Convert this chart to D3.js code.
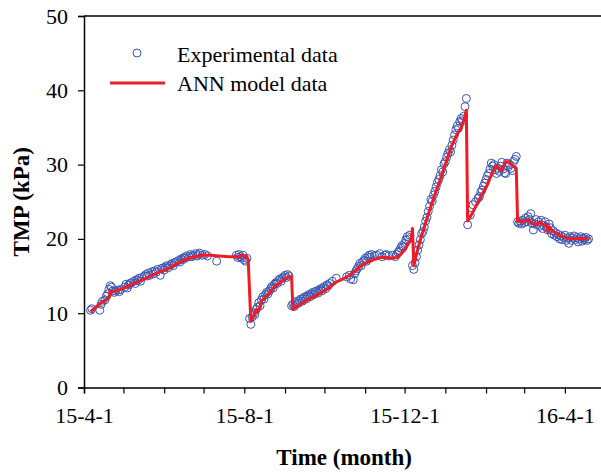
<!DOCTYPE html>
<html lang="en">
<head>
<meta charset="UTF-8">
<title>TMP vs time</title>
<style>
  body { margin: 0; background: #fff; }
  svg { display: block; font-family: "Liberation Serif", "Times New Roman", serif; }
</style>
</head>
<body>
<svg id="chart" width="601" height="474"></svg>
<script src="https://d3js.org/d3.v7.min.js"></script>
<script>
// days counted from 2015-04-01
var startDate = "2015-04-01";
var endDate = "2016-05-01";

var expDays = [5, 6, 12, 13, 14, 16, 17, 18, 19, 20, 21, 22, 23, 24, 26, 27, 28, 31, 32, 33, 34, 35, 36, 38, 39, 40,
  41, 42, 43, 44, 46, 47, 48, 49, 50, 52, 53, 54, 55, 56, 58, 59, 60, 61, 62, 63, 64, 66, 67, 68, 69, 70, 72, 73, 74,
  75, 76, 77, 78, 80, 81, 82, 83, 85, 86, 87, 88, 90, 92, 94, 101, 116, 117, 118, 119, 120, 121, 122, 123, 124,
  126, 127, 128, 129, 130, 131, 132, 133, 134, 135, 136, 137, 138, 139, 140, 141, 142, 143, 144, 145, 146, 147, 148,
  149, 150, 151, 152, 153, 154, 155, 156,
  158, 159, 160, 161, 162, 163, 164, 165, 166, 167, 168, 169, 170, 171, 172, 173, 174, 175, 176, 177, 178, 179, 180,
  181, 182, 183, 184, 185, 186, 187, 189, 192, 200, 202, 203, 205, 206, 207, 208, 209, 210, 211, 212, 213, 214, 215,
  216, 217, 218, 219, 221, 223, 225, 227, 229, 230, 232, 235, 237, 238, 239, 240, 241, 242, 243, 244, 245, 246, 247, 248,
  250, 251, 252, 253, 254, 255, 256, 257, 258, 259, 260, 261, 262, 263, 264, 265, 266, 267, 268, 269, 270, 271, 272,
  273, 274, 275, 276, 277, 278, 279, 280, 281, 282, 283, 284, 285, 286, 287, 288, 289, 290, 291,
  292, 294, 296, 298, 300, 301, 302, 303, 304, 305, 306, 307, 308, 309, 310, 311, 312, 313, 314, 315, 316, 317, 318,
  319, 320, 321, 322, 323, 324, 325, 326, 327, 328, 329,
  330, 331, 332, 333, 334, 335, 336, 337, 338, 339, 340, 341, 342, 343, 344, 345, 346, 347, 348, 349, 350, 351, 352,
  353, 354, 355, 356, 357, 358, 359, 360, 361, 362, 363, 364, 365, 366, 367, 368, 369, 370, 371, 372, 373, 374, 375,
  376, 377, 378, 379, 380, 381, 382, 383, 384];

var expTMP = [10.4, 10.6, 10.4, 11.2, 11.6, 11.8, 12.3, 12.6, 13.2, 13.7, 13.5, 13.0, 12.8, 13.0, 13.1, 12.9, 13.2,
  13.5, 13.9, 13.4, 13.8, 14.0, 14.1, 14.3, 14.0, 14.5,
  14.4, 14.7, 14.3, 14.8, 15.0, 15.2, 15.0, 15.4, 15.1, 15.6, 15.3, 15.7, 15.5, 15.9, 15.1, 16.0, 16.1, 15.8, 16.2,
  16.4, 16.1, 16.5, 16.7, 16.4, 16.8, 16.9, 17.1, 16.9, 17.3,
  17.2, 17.5, 17.4, 17.7, 17.6, 17.9, 17.6, 17.8, 18.0, 17.7, 17.9, 18.1, 17.8, 17.9, 17.7, 17.0, 17.8, 17.5, 17.9,
  17.6, 17.4, 17.8, 17.2, 17.0, 17.4,
  9.3, 8.5, 9.5, 10.0, 9.8, 10.5, 10.8, 11.4, 11.0, 11.8, 12.2, 11.9, 12.5, 12.8, 12.6, 13.0, 13.3, 13.6, 13.4, 13.9,
  14.1, 14.0, 14.4, 14.6, 14.3, 14.7, 14.9, 15.1, 14.8, 15.2, 15.0,
  11.0, 11.2, 10.9, 11.4, 11.6, 11.3, 11.7, 11.9, 11.6, 12.0, 12.2, 11.9, 12.3, 12.5, 12.2, 12.6, 12.8, 12.5, 12.9,
  13.0, 12.7, 13.1, 13.3,
  13.0, 13.4, 13.6, 13.3, 13.8, 13.7, 14.0, 14.3, 14.7, 14.9, 15.1, 14.6, 14.5, 15.3, 15.7, 16.0, 16.3, 16.7, 16.4,
  16.9, 17.1, 17.4, 17.0,
  17.6, 17.8, 17.5, 17.9, 17.7, 17.8, 18.0, 17.6, 17.8, 17.9, 17.7, 17.8, 17.6, 17.9, 18.2, 18.4, 18.8, 19.1, 18.9,
  19.4, 19.9, 20.3, 20.0, 20.5,
  16.4, 15.9, 16.8, 17.6, 18.5, 19.2, 19.9, 20.7, 21.0, 21.6, 22.4, 22.9, 23.7, 24.4, 25.3, 25.1, 25.9, 26.4, 27.0,
  27.6, 28.0, 28.5, 29.3,
  29.0, 30.1, 30.4, 31.0, 31.5, 32.0, 31.7, 32.6, 33.3, 34.0, 34.7, 35.2, 34.9, 35.8, 36.2, 35.9, 36.5, 37.8, 38.9,
  21.9, 23.2, 24.6, 25.0, 25.5, 25.7, 26.3, 26.6, 27.1, 27.5, 28.0, 28.5, 28.8, 29.4, 30.2, 29.8, 30.0, 29.3, 28.8,
  29.5, 29.1, 29.8, 30.3,
  29.4, 28.9, 28.8, 30.2, 29.7, 30.0, 29.5, 29.2, 30.4, 30.7, 31.1,
  22.3, 22.1, 22.4, 22.0, 22.5, 22.2, 22.8, 22.3, 23.0, 22.6, 23.4, 22.1, 21.2, 22.0, 22.6, 21.9, 22.3, 21.7, 22.5,
  21.4, 21.8, 22.3, 21.6,
  21.2, 22.0, 21.5, 20.7, 21.1, 20.5, 20.8, 20.3, 20.6, 20.0, 20.4, 19.9, 20.2, 20.5, 19.8, 20.1, 19.4, 20.3, 19.8,
  20.1, 20.4, 19.9, 20.2,
  19.6, 20.0, 20.3, 19.7, 20.1, 19.9, 20.2, 19.8, 20.0];

var annDays = [5, 9, 13, 17, 19, 20, 23, 28, 33, 38, 43, 48, 53, 58, 63, 68, 73, 78, 84, 90, 96, 110, 117, 121, 124,
  125, 127, 129, 131, 132, 134, 135, 137, 140, 143, 146, 149, 152, 156, 158,
  159, 163, 167, 171, 175, 179, 183, 187, 192, 197, 202, 206, 210, 214, 218, 222, 226, 230, 234, 238, 241, 244, 247,
  249, 250, 251, 254, 257, 259, 262, 265, 268, 271, 274, 277, 280, 284, 287, 289, 291,
  292, 296, 300, 304, 307, 309, 312, 314, 316, 318, 321, 323, 326, 329,
  330, 334, 338, 341, 344, 347, 350, 352, 353, 354, 357, 362, 366, 370, 375, 380, 384];

var annTMP = [10.2, 10.8, 11.4, 11.8, 12.1, 13.0, 12.9, 13.2, 13.6, 14.0, 14.4, 14.8, 15.2, 15.6, 15.9, 16.4, 16.9,
  17.3, 17.6, 17.8, 17.8, 17.6, 17.6, 17.8, 17.6,
  17.0, 8.9, 9.6, 10.5, 10.1, 10.9, 11.7, 11.9, 12.5, 13.2, 13.7, 14.1, 14.5, 14.9, 14.9,
  10.5, 11.0, 11.4, 11.9, 12.2, 12.6, 13.0, 13.5, 14.2, 14.6, 15.1, 15.6, 16.3, 16.7, 17.0, 17.3, 17.5, 17.5, 17.4,
  17.5, 17.9, 18.5, 19.4,
  19.9, 21.4, 16.4, 18.6, 20.5, 21.6, 23.3, 24.9, 26.4, 27.9, 29.5, 31.1, 32.6, 34.1, 34.9, 35.9, 37.3,
  22.4, 23.6, 25.0, 26.3, 27.3, 28.2, 29.3, 29.9, 29.4, 29.2, 30.4, 30.4, 29.9, 29.5,
  22.4, 22.3, 22.6, 22.1, 21.9, 22.3, 21.8, 22.0, 20.9, 21.6, 21.0, 20.5, 20.2, 20.0, 20.1, 20.0, 20.1];

var yTicks = [0, 10, 20, 30, 40, 50];
var labelledMonths = ["2015-04-01", "2015-08-01", "2015-12-01", "2016-04-01"];

var parse = d3.timeParse("%Y-%m-%d");
var t0 = parse(startDate);
var fmt = d3.timeFormat("%y-%-m-%-d");

var svg = d3.select("#chart");
var margin = { left: 84, top: 16, right: 604.3, bottom: 387.5 };

var x = d3.scaleTime().domain([t0, parse(endDate)]).range([margin.left, margin.right]);
var y = d3.scaleLinear().domain([0, 50]).range([margin.bottom, margin.top]);

var expData = expDays.map(function(d, i) { return { date: d3.timeDay.offset(t0, d), v: expTMP[i] }; });
var annData = annDays.map(function(d, i) { return { date: d3.timeDay.offset(t0, d), v: annTMP[i] }; });

// frame: top line
svg.append("line")
  .attr("x1", margin.left).attr("x2", margin.right)
  .attr("y1", margin.top).attr("y2", margin.top)
  .attr("stroke", "#000").attr("stroke-width", 1.5);

// y axis
var yAxis = svg.append("g")
  .attr("transform", "translate(" + margin.left + ",0)")
  .call(d3.axisLeft(y).tickValues(yTicks).tickSize(6).tickPadding(10));
yAxis.select(".domain").attr("stroke-width", 1.5);
yAxis.selectAll(".tick line").attr("stroke-width", 1.2);
yAxis.selectAll("text").attr("font-size", 22).attr("font-family", "Liberation Serif, serif").attr("fill", "#000");

// x axis, a tick every month
var months = d3.timeMonth.range(t0, parse(endDate));
var labelSet = labelledMonths.map(function(s) { return +parse(s); });
var xAxis = svg.append("g")
  .attr("transform", "translate(0," + margin.bottom + ")")
  .call(d3.axisBottom(x).tickValues(months).tickSize(6).tickPadding(14)
    .tickFormat(function(d) { return labelSet.indexOf(+d) > -1 ? fmt(d) : ""; }));
xAxis.select(".domain").attr("stroke-width", 1.5);
xAxis.selectAll(".tick line").attr("stroke-width", 1.2);
xAxis.selectAll("text").attr("font-size", 22).attr("font-family", "Liberation Serif, serif").attr("fill", "#000");

// experimental data
svg.append("g").selectAll("circle")
  .data(expData)
  .enter().append("circle")
  .attr("cx", function(d) { return x(d.date); })
  .attr("cy", function(d) { return y(d.v); })
  .attr("r", 4)
  .attr("fill", "none")
  .attr("stroke", "#3a56b0")
  .attr("stroke-width", 1);

// ANN model
var line = d3.line()
  .x(function(d) { return x(d.date); })
  .y(function(d) { return y(d.v); });

svg.append("path")
  .datum(annData)
  .attr("d", line)
  .attr("fill", "none")
  .attr("stroke", "#ee1c25")
  .attr("stroke-width", 3)
  .attr("stroke-linejoin", "round");

// legend
var legend = svg.append("g").attr("font-size", 22).attr("fill", "#000");
legend.append("circle")
  .attr("cx", 137).attr("cy", 53).attr("r", 4)
  .attr("fill", "none").attr("stroke", "#3a56b0").attr("stroke-width", 1);
legend.append("text").attr("x", 177).attr("y", 62).text("Experimental data");
legend.append("line")
  .attr("x1", 110).attr("x2", 165).attr("y1", 83).attr("y2", 83)
  .attr("stroke", "#ee1c25").attr("stroke-width", 3);
legend.append("text").attr("x", 177).attr("y", 91).text("ANN model data");

// axis titles
svg.append("text")
  .attr("x", (margin.left + margin.right) / 2)
  .attr("y", 465)
  .attr("text-anchor", "middle")
  .attr("font-size", 23)
  .attr("font-weight", "bold")
  .text("Time (month)");

svg.append("text")
  .attr("transform", "translate(29," + (margin.top + margin.bottom) / 2 + ") rotate(-90)")
  .attr("text-anchor", "middle")
  .attr("font-size", 23)
  .attr("font-weight", "bold")
  .text("TMP (kPa)");
</script>
</body>
</html>
